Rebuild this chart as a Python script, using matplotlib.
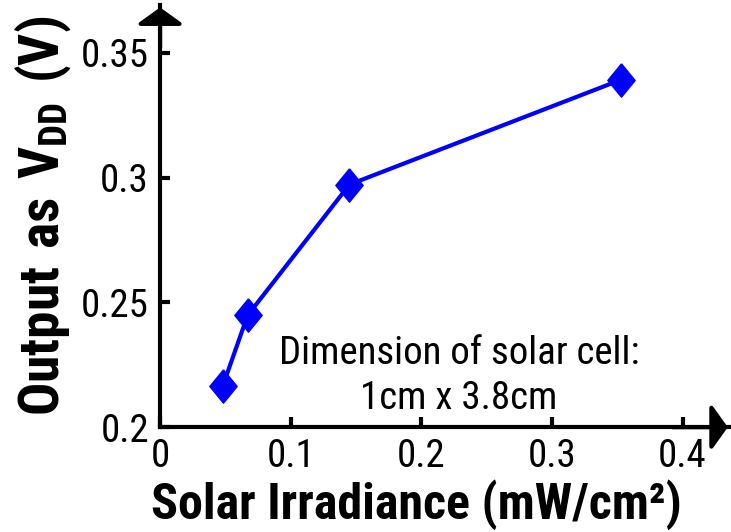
import matplotlib
matplotlib.use("Agg")
import matplotlib.pyplot as plt
from matplotlib import font_manager
from matplotlib.font_manager import FontProperties

# data
irradiance = [0.048, 0.067, 0.145, 0.353]   # mW/cm^2
vdd = [0.2165, 0.2448, 0.2972, 0.3392]      # V
x_ticks = [0, 0.1, 0.2, 0.3, 0.4]
x_ticklabels = ["0", "0.1", "0.2", "0.3", "0.4"]
y_ticks = [0.2, 0.25, 0.3, 0.35]
y_ticklabels = ["0.2", "0.25", "0.3", "0.35"]
note = "Dimension of solar cell:\n1cm x 3.8cm"
xlabel = "Solar Irradiance (mW/cm²)"
ylabel = r"$\mathregular{Output\ as\ V_{DD}\ (V)}$"

# look for a narrow sans face, the reference uses one
narrow = {}
for f in font_manager.fontManager.ttflist:
    if f.style != 'normal':
        continue
    is_narrow = ('Narrow' in f.name or 'Condensed' in f.name
                 or f.stretch in ('condensed', 'semi-condensed'))
    if not is_narrow:
        continue
    bold = f.weight in (700, 'bold')
    regular = f.weight in (400, 'normal', 'regular')
    key = f.name + '|' + str(f.stretch)
    d = narrow.setdefault(key, {})
    if bold:
        d['bold'] = f.fname
    elif regular:
        d['regular'] = f.fname

prefs = ['Liberation Sans Narrow', 'Roboto Condensed', 'DejaVu Sans', 'Noto Sans',
         'Open Sans', 'Arimo']
chosen = None
for p in prefs:
    for k, d in narrow.items():
        if k.startswith(p) and 'regular' in d and 'bold' in d:
            chosen = d
            break
    if chosen:
        break

if chosen:
    reg = FontProperties(fname=chosen['regular'])
    bld = FontProperties(fname=chosen['bold'])
    tick_fs, xlab_fs, ylab_fs, note_fs = 28, 36, 40, 28
else:
    reg = FontProperties(family='DejaVu Sans')
    bld = FontProperties(family='DejaVu Sans', weight='bold')
    tick_fs, xlab_fs, ylab_fs, note_fs = 24, 30, 30, 21

fig = plt.figure(figsize=(7.31, 5.32), dpi=100)
ax = fig.add_axes([0.219, 0.197, 0.779, 0.793])

diamond = [(0, 1), (0.82, 0), (0, -1), (-0.82, 0), (0, 1)]
ax.plot(irradiance, vdd, color='#0000ff', lw=3, marker=diamond, markersize=24,
        clip_on=False, zorder=3)

ax.set_xlim(0, 0.436)
ax.set_ylim(0.2, 0.369)
ax.set_xticks(x_ticks)
ax.set_xticklabels(x_ticklabels, fontproperties=reg, fontsize=tick_fs)
ax.set_yticks(y_ticks)
ax.set_yticklabels(y_ticklabels, fontproperties=reg, fontsize=tick_fs)

for s in ['top', 'right']:
    ax.spines[s].set_visible(False)
for s in ['left', 'bottom']:
    ax.spines[s].set_linewidth(3)
ax.tick_params(direction='in', length=7, width=3, pad=8)

# axis arrows
arrow = dict(arrowstyle='-|>,head_length=0.5,head_width=0.7', lw=3,
             color='black', mutation_scale=20, shrinkA=0, shrinkB=0)
ax.annotate('', xy=(0, 0.995), xytext=(0, 0.9), xycoords='axes fraction', arrowprops=arrow)
ax.annotate('', xy=(0.997, 0), xytext=(0.9, 0), xycoords='axes fraction', arrowprops=arrow)

ax.set_xlabel(xlabel, fontproperties=bld, fontsize=xlab_fs)
ax.xaxis.set_label_coords(0.451, -0.183, transform=ax.transAxes)
ax.xaxis.label.set_va('center')
ax.set_ylabel(ylabel, fontproperties=bld, fontsize=ylab_fs, labelpad=6)

ax.text(0.229, 0.2205, note, ha='center', va='center', fontproperties=reg,
        fontsize=note_fs, linespacing=1.3)

fig.savefig("out.png", dpi=100)
